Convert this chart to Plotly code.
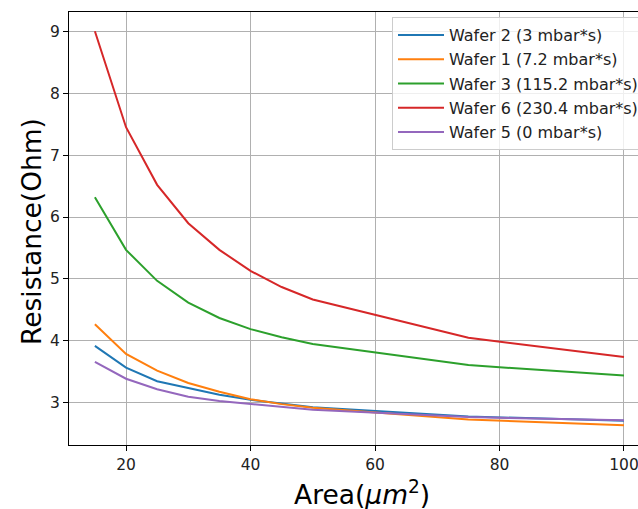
import plotly.graph_objects as go

area = [15, 20, 25, 30, 35, 40, 45, 50, 75, 100]

wafer2 = [3.92, 3.57, 3.35, 3.24, 3.13, 3.05, 2.99, 2.93, 2.78, 2.71]
wafer1 = [4.27, 3.79, 3.52, 3.32, 3.18, 3.06, 2.98, 2.92, 2.73, 2.64]
wafer3 = [6.32, 5.47, 4.97, 4.62, 4.37, 4.19, 4.06, 3.95, 3.61, 3.44]
wafer6 = [9.00, 7.45, 6.52, 5.90, 5.47, 5.13, 4.87, 4.67, 4.05, 3.74]
wafer5 = [3.66, 3.39, 3.22, 3.10, 3.03, 2.98, 2.93, 2.89, 2.77, 2.72]

names = ["Wafer 2 (3 mbar*s)", "Wafer 1 (7.2 mbar*s)", "Wafer 3 (115.2 mbar*s)",
         "Wafer 6 (230.4 mbar*s)", "Wafer 5 (0 mbar*s)"]
series = [wafer2, wafer1, wafer3, wafer6, wafer5]
colors = ["#1f77b4", "#ff7f0e", "#2ca02c", "#d62728", "#9467bd"]

x_ticks = [20, 40, 60, 80, 100]
y_ticks = [3, 4, 5, 6, 7, 8, 9]

fig = go.Figure()
for i, (n, s, c) in enumerate(zip(names, series, colors)):
    fig.add_trace(go.Scatter(x=area, y=s, mode="lines", name=n,
                             legendgroup=f"g{i}",
                             line=dict(color=c, width=2)))

font = "DejaVu Sans, Arial, sans-serif"
L, T, B, W, H = 69, 12, 64, 638, 509
pw = W - L
ph = H - T - B

fig.update_layout(
    width=W, height=H,
    margin=dict(l=L, r=0, t=T, b=B, pad=0, autoexpand=False),
    paper_bgcolor="white", plot_bgcolor="white",
    font=dict(family=font, size=15, color="#222"),
    showlegend=True,
    legend=dict(x=(392 - L) / pw, y=1 - (17 - T) / ph, xanchor="left", yanchor="top",
                bgcolor="rgba(255,255,255,0.8)", bordercolor="#cccccc", borderwidth=1,
                font=dict(size=16, family=font, color="#222"),
                tracegroupgap=0.5, itemwidth=46),
    xaxis=dict(range=[10.84, 102.25], tickvals=x_ticks, showgrid=True,
               gridcolor="#b0b0b0", gridwidth=1, showline=True, linecolor="black",
               linewidth=1.3, mirror=True, ticks="outside", ticklen=5, tickcolor="black",
               tickfont=dict(size=15.5), zeroline=False, ticklabeloverflow="allow"),
    yaxis=dict(range=[2.32, 9.31], tickvals=y_ticks, showgrid=True,
               gridcolor="#b0b0b0", gridwidth=1, showline=True, linecolor="black",
               linewidth=1.3, mirror=False, ticks="outside", ticklen=5, tickcolor="black",
               tickfont=dict(size=15.5), zeroline=False, ticklabeloverflow="allow"),
)

fig.add_annotation(text="Area(<i>μm</i><sup>2</sup>)", xref="paper", yref="paper",
                   x=(362 - L) / pw, y=-(493 - (H - B)) / ph, xanchor="center",
                   yanchor="middle", showarrow=False,
                   font=dict(size=26.5, family=font, color="black"))
fig.add_annotation(text="Resistance(Ohm)", xref="paper", yref="paper",
                   x=(31 - L) / pw, y=1 - (232 - T) / ph, xanchor="center",
                   yanchor="middle", textangle=-90, showarrow=False,
                   font=dict(size=26.5, family=font, color="black"))

fig.write_html("out.html")
